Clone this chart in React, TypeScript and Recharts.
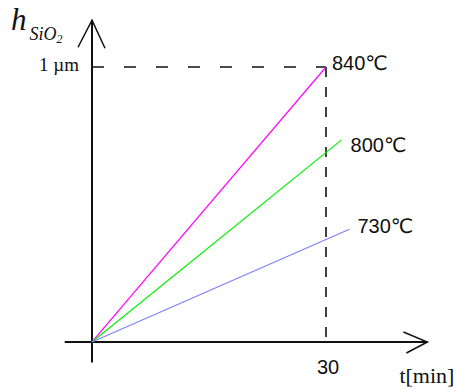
import { LineChart, Line, XAxis, YAxis, ReferenceLine, Label, LabelList } from "recharts";

// oxide thickness (µm) against oxidation time (min), one series per temperature
const seriesNames = ["840℃", "800℃", "730℃"];
const times840 = [0, 30];
const thickness840 = [0, 1.0];
const times800 = [0, 32];
const thickness800 = [0, 0.735];
const times730 = [0, 33];
const thickness730 = [0, 0.41];

const tTicks = [30];
const tTickLabels = ["30"];
const hTicks = [1];
const hTickLabels = ["1 µm"];

const SERIES_STYLE = [
  { color: "#ff00ff", dx: 6, dy: 3 },
  { color: "#00f000", dx: 9, dy: 12 },
  { color: "#8080ff", dx: 8, dy: 4 },
];

const toPoints = (ts: number[], hs: number[]) => ts.map((t, i) => ({ t, h: hs[i] }));
const SERIES = [
  toPoints(times840, thickness840),
  toPoints(times800, thickness800),
  toPoints(times730, thickness730),
];

const SANS = "'Liberation Sans', 'DejaVu Sans', sans-serif";
const SERIF = "'Liberation Serif', 'DejaVu Serif', serif";
const INK = "#111";

function YAxisDecor({ viewBox }: any) {
  const { x, y } = viewBox;
  return (
    <g>
      <polyline points={`${x - 14},${y + 27} ${x},${y} ${x + 13},${y + 28}`} fill="none" stroke={INK} strokeWidth={1.5} />
      <text x={x - 81} y={y + 10} fill={INK} fontFamily={SERIF} fontStyle="italic">
        <tspan fontSize={31}>h</tspan>
        <tspan fontSize={18} dx={3} dy={10}>SiO</tspan>
        <tspan fontSize={12} dy={3}>2</tspan>
      </text>
    </g>
  );
}

function XAxisDecor({ viewBox }: any) {
  const end = viewBox.x + viewBox.width;
  const y = viewBox.y;
  return (
    <g>
      <polyline points={`${end - 24},${y - 10} ${end},${y} ${end - 21},${y + 11}`} fill="none" stroke={INK} strokeWidth={1.5} />
      <text x={end - 28} y={y + 41} fill={INK} fontFamily={SERIF} fontSize={22}>
        t[min]
      </text>
    </g>
  );
}

function TimeTick({ viewBox }: any) {
  return (
    <text x={viewBox.x + 2} y={viewBox.y + viewBox.height + 29} textAnchor="middle" fill={INK} fontFamily={SANS} fontSize={20}>
      {tTickLabels[0]}
    </text>
  );
}

function ThicknessTick({ viewBox }: any) {
  return (
    <text x={viewBox.x - 13} y={viewBox.y + 4} textAnchor="end" fill={INK} fontFamily={SERIF} fontSize={19}>
      {hTickLabels[0]}
    </text>
  );
}

function makeEndLabel(s: number) {
  return (props: any) => {
    const { x, y, index } = props;
    if (index !== SERIES[s].length - 1) return null;
    return (
      <text x={x + SERIES_STYLE[s].dx} y={y + SERIES_STYLE[s].dy} fill={INK} fontFamily={SANS} fontSize={20}>
        {seriesNames[s]}
      </text>
    );
  };
}

export default function App() {
  return (
    <div style={{ position: "absolute", left: 0, top: 0, width: 458, height: 392, background: "#fff" }}>
      <LineChart width={458} height={392} margin={{ top: 20.25, right: 30.6, bottom: 29.4, left: 64.7 }}>
        <XAxis type="number" dataKey="t" domain={[-3.5, 43]} hide allowDataOverflow />
        <YAxis type="number" dataKey="h" domain={[-0.075, 1.17]} hide allowDataOverflow />

        <ReferenceLine y={0} stroke={INK} strokeWidth={2}>
          <Label content={<XAxisDecor />} />
        </ReferenceLine>
        <ReferenceLine x={0} stroke={INK} strokeWidth={2}>
          <Label content={<YAxisDecor />} />
        </ReferenceLine>

        <ReferenceLine
          segment={[{ x: 0, y: hTicks[0] }, { x: tTicks[0], y: hTicks[0] }]}
          stroke={INK}
          strokeWidth={1.6}
          strokeDasharray="12 20"
        >
          <Label content={<ThicknessTick />} />
        </ReferenceLine>
        <ReferenceLine
          segment={[{ x: tTicks[0], y: hTicks[0] }, { x: tTicks[0], y: -0.012 }]}
          stroke={INK}
          strokeWidth={1.6}
          strokeDasharray="10 10"
        >
          <Label content={<TimeTick />} />
        </ReferenceLine>

        {SERIES.map((data, s) => (
          <Line
            key={seriesNames[s]}
            data={data}
            dataKey="h"
            type="linear"
            stroke={SERIES_STYLE[s].color}
            strokeWidth={1.2}
            dot={false}
            isAnimationActive={false}
          >
            <LabelList dataKey="h" content={makeEndLabel(s)} />
          </Line>
        ))}
      </LineChart>
    </div>
  );
}
